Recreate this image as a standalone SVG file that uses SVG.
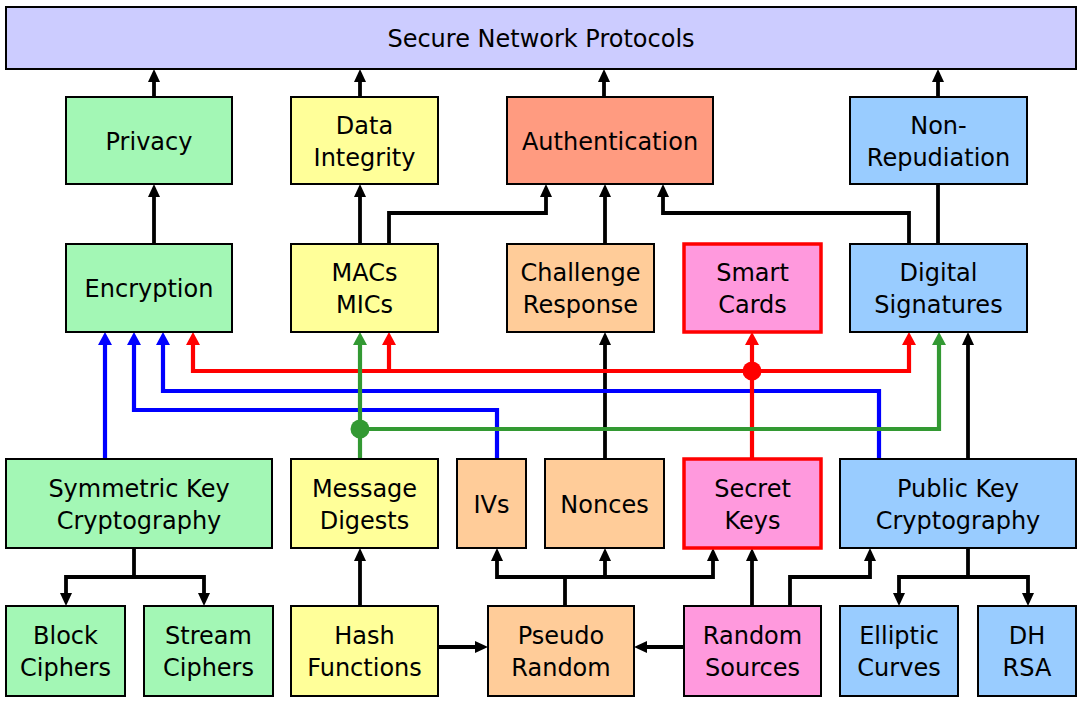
<svg xmlns="http://www.w3.org/2000/svg" width="1084" height="702" viewBox="0 0 1084 702">
<style>
.box{stroke:#000;stroke-width:2}
.red{stroke:#FF0000;stroke-width:3.5}
.g{fill:#A3F7B5}.y{fill:#FFFF99}.s{fill:#FF9B80}.o{fill:#FFCC99}.p{fill:#FF99DD}.b{fill:#99CCFF}.t{fill:#CCCCFF}
text{font-family:"DejaVu Sans","Liberation Sans",sans-serif;font-size:24px;fill:#000;text-anchor:middle}
.k{fill:none;stroke:#000;stroke-width:3.8;marker-end:url(#ak)}
.kn{fill:none;stroke:#000;stroke-width:3.8}
.cr{fill:none;stroke:#FF0000;stroke-width:4.2;marker-end:url(#ar)}
.cb{fill:none;stroke:#0000FF;stroke-width:4.2;marker-end:url(#ab)}
.cg{fill:none;stroke:#339933;stroke-width:4.2;marker-end:url(#ag)}
</style>
<defs>
<marker id="ak" markerUnits="userSpaceOnUse" markerWidth="14" markerHeight="14" refX="0" refY="6" orient="auto-start-reverse" overflow="visible"><path d="M-1,0 L12,6 L-1,12 Z" fill="#000"/></marker>
<marker id="ar" markerUnits="userSpaceOnUse" markerWidth="14" markerHeight="14" refX="0" refY="7" orient="auto-start-reverse" overflow="visible"><path d="M-1,0 L12,7 L-1,14 Z" fill="#FF0000"/></marker>
<marker id="ab" markerUnits="userSpaceOnUse" markerWidth="14" markerHeight="14" refX="0" refY="7" orient="auto-start-reverse" overflow="visible"><path d="M-1,0 L12,7 L-1,14 Z" fill="#0000FF"/></marker>
<marker id="ag" markerUnits="userSpaceOnUse" markerWidth="14" markerHeight="14" refX="0" refY="7" orient="auto-start-reverse" overflow="visible"><path d="M-1,0 L12,7 L-1,14 Z" fill="#339933"/></marker>
</defs>
<rect width="1084" height="702" fill="#fff"/>

<g id="connectors">
<path class="k" d="M154,97 V81"/>
<path class="k" d="M360,97 V81"/>
<path class="k" d="M604,97 V81"/>
<path class="k" d="M938,97 V81"/>
<path class="k" d="M154,244 V196"/>
<path class="k" d="M360,244 V196"/>
<path class="k" d="M389,244 V213 H546 V196"/>
<path class="k" d="M605,244 V196"/>
<path class="k" d="M909,244 V213 H663 V196"/>
<path class="kn" d="M938,244 V184"/>
<path class="k" d="M605,459 V344"/>
<path class="k" d="M968,459 V344"/>
<path class="cb" d="M105,459 V344"/>
<path class="cb" d="M497,459 V410 H134 V344"/>
<path class="cb" d="M879,459 V391 H163 V344"/>
<path class="cr" d="M193,344 V371 H909 V344" marker-start="url(#ar)"/>
<path class="cr" d="M389,371 V344"/>
<path class="cr" d="M752,459 V344"/>
<circle cx="752" cy="371" r="9.5" fill="#FF0000"/>
<path class="cg" d="M360,459 V344"/>
<path class="cg" d="M360,429 H939 V344"/>
<circle cx="360" cy="429" r="9.5" fill="#339933"/>
<path class="kn" d="M134,548 V577"/>
<path class="k" d="M66,594 V577 H204 V594" marker-start="url(#ak)"/>
<path class="k" d="M360,606 V560"/>
<path class="k" d="M438,647 H476"/>
<path class="k" d="M684,647 H646"/>
<path class="kn" d="M565,606 V577"/>
<path class="k" d="M497,560 V577 H713 V560" marker-start="url(#ak)"/>
<path class="k" d="M605,577 V560"/>
<path class="k" d="M752,606 V560"/>
<path class="k" d="M790,606 V577 H870 V560"/>
<path class="kn" d="M968,548 V577"/>
<path class="k" d="M899,594 V577 H1028 V594" marker-start="url(#ak)"/>
</g>

<g id="secure-network-protocols"><rect class="box t" x="6" y="7" width="1070" height="62"/><text x="541" y="47">Secure Network Protocols</text></g>

<g id="privacy"><rect class="box g" x="66" y="97" width="166" height="87"/><text x="149" y="149.5">Privacy</text></g>
<g id="data-integrity"><rect class="box y" x="291" y="97" width="147" height="87"/><text x="364.5" y="133.5">Data</text><text x="364.5" y="165.5">Integrity</text></g>
<g id="authentication"><rect class="box s" x="507" y="97" width="206" height="87"/><text x="610" y="149.5">Authentication</text></g>
<g id="non-repudiation"><rect class="box b" x="850" y="97" width="177" height="87"/><text x="938.5" y="133.5">Non-</text><text x="938.5" y="165.5">Repudiation</text></g>

<g id="encryption"><rect class="box g" x="66" y="244" width="166" height="88"/><text x="149" y="297">Encryption</text></g>
<g id="macs-mics"><rect class="box y" x="291" y="244" width="147" height="88"/><text x="364.5" y="281">MACs</text><text x="364.5" y="313">MICs</text></g>
<g id="challenge-response"><rect class="box o" x="507" y="244" width="147" height="88"/><text x="580.5" y="281">Challenge</text><text x="580.5" y="313">Response</text></g>
<g id="smart-cards"><rect class="p red" x="684" y="244" width="137" height="88"/><text x="752.5" y="281">Smart</text><text x="752.5" y="313">Cards</text></g>
<g id="digital-signatures"><rect class="box b" x="850" y="244" width="177" height="88"/><text x="938.5" y="281">Digital</text><text x="938.5" y="313">Signatures</text></g>

<g id="symmetric-key-cryptography"><rect class="box g" x="6" y="459" width="266" height="89"/><text x="139" y="496.5">Symmetric Key</text><text x="139" y="528.5">Cryptography</text></g>
<g id="message-digests"><rect class="box y" x="291" y="459" width="147" height="89"/><text x="364.5" y="496.5">Message</text><text x="364.5" y="528.5">Digests</text></g>
<g id="ivs"><rect class="box o" x="457" y="459" width="69" height="89"/><text x="491.5" y="512.5">IVs</text></g>
<g id="nonces"><rect class="box o" x="545" y="459" width="119" height="89"/><text x="604.5" y="512.5">Nonces</text></g>
<g id="secret-keys"><rect class="p red" x="684" y="459" width="137" height="89"/><text x="752.5" y="496.5">Secret</text><text x="752.5" y="528.5">Keys</text></g>
<g id="public-key-cryptography"><rect class="box b" x="840" y="459" width="236" height="89"/><text x="958" y="496.5">Public Key</text><text x="958" y="528.5">Cryptography</text></g>

<g id="block-ciphers"><rect class="box g" x="6" y="606" width="119" height="90"/><text x="65.5" y="644">Block</text><text x="65.5" y="676">Ciphers</text></g>
<g id="stream-ciphers"><rect class="box g" x="144" y="606" width="129" height="90"/><text x="208.5" y="644">Stream</text><text x="208.5" y="676">Ciphers</text></g>
<g id="hash-functions"><rect class="box y" x="291" y="606" width="147" height="90"/><text x="364.5" y="644">Hash</text><text x="364.5" y="676">Functions</text></g>
<g id="pseudo-random"><rect class="box o" x="488" y="606" width="146" height="90"/><text x="561" y="644">Pseudo</text><text x="561" y="676">Random</text></g>
<g id="random-sources"><rect class="box p" x="684" y="606" width="137" height="90"/><text x="752.5" y="644">Random</text><text x="752.5" y="676">Sources</text></g>
<g id="elliptic-curves"><rect class="box b" x="840" y="606" width="118" height="90"/><text x="899" y="644">Elliptic</text><text x="899" y="676">Curves</text></g>
<g id="dh-rsa"><rect class="box b" x="978" y="606" width="98" height="90"/><text x="1027" y="644">DH</text><text x="1027" y="676">RSA</text></g>
</svg>
